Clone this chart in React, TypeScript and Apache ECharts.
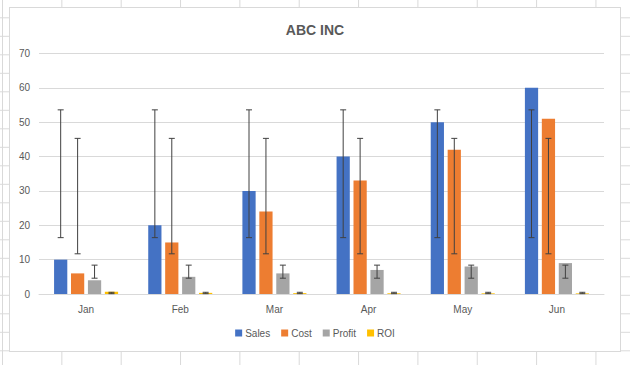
import React, { useEffect, useRef } from "react";
import * as echarts from "echarts";

const months = ["Jan", "Feb", "Mar", "Apr", "May", "Jun"];
const seriesNames = ["Sales", "Cost", "Profit", "ROI"];
const sales = [10, 20, 30, 40, 50, 60];
const cost = [6, 15, 24, 33, 42, 51];
const profit = [4, 5, 6, 7, 8, 9];
const roi = [0.67, 0.33, 0.25, 0.21, 0.19, 0.18];
// standard-deviation error bar ends (low, high)
const errLow = [16.4, 11.7, 4.6, 0.1];
const errHigh = [53.6, 45.3, 8.4, 0.5];
const yTicks = [0, 10, 20, 30, 40, 50, 60, 70];
const colors = ["#4472C4", "#ED7D31", "#A5A5A5", "#FFC000"];

const CAT_GAP = 0.32;
const BAR_GAP = 0.28;

export default function App() {
  const ref = useRef<HTMLDivElement>(null);
  useEffect(() => {
    if (!ref.current) return;
    const chart = echarts.init(ref.current, null, { renderer: "svg" });
    const values = [sales, cost, profit, roi];
    const nBars = values.length;
    const barSeries = values.map((v, i) => ({
      name: seriesNames[i],
      type: "bar",
      data: v,
      itemStyle: { color: colors[i] },
      barGap: `${BAR_GAP * 100}%`,
      barCategoryGap: `${CAT_GAP * 100}%`,
      z: 2,
    }));
    const errSeries = values.map((v, s) => ({
      type: "custom",
      name: seriesNames[s] + "-err",
      z: 5,
      silent: true,
      encode: { x: 0, y: [1, 2] },
      data: v.map((_, k) => [k, errLow[s], errHigh[s]]),
      renderItem: (params: any, api: any) => {
        const idx = api.value(0);
        const lo = api.coord([idx, api.value(1)]);
        const hi = api.coord([idx, api.value(2)]);
        const band = api.size([1, 0])[0];
        const inner = band * (1 - CAT_GAP);
        const bw = inner / (nBars + (nBars - 1) * BAR_GAP);
        const x = lo[0] - inner / 2 + bw / 2 + s * bw * (1 + BAR_GAP);
        const hw = 3;
        const style = { stroke: "#404040", lineWidth: 1 };
        return {
          type: "group",
          children: [
            { type: "line", shape: { x1: x, y1: lo[1], x2: x, y2: hi[1] }, style },
            { type: "line", shape: { x1: x - hw, y1: lo[1], x2: x + hw, y2: lo[1] }, style },
            { type: "line", shape: { x1: x - hw, y1: hi[1], x2: x + hw, y2: hi[1] }, style },
          ],
        };
      },
    }));
    chart.setOption({
      animation: false,
      textStyle: { fontFamily: "Liberation Sans" },
      title: {
        text: "ABC INC",
        left: "center",
        top: 10,
        textStyle: { fontSize: 14, fontWeight: "bold", color: "#595959", fontFamily: "Liberation Sans" },
      },
      legend: {
        data: seriesNames,
        bottom: 8,
        left: "center",
        icon: "rect",
        itemWidth: 7,
        itemHeight: 7,
        itemGap: 11,
        textStyle: { fontSize: 10, color: "#595959", padding: [0, 0, 0, -2] },
      },
      grid: { left: 29, right: 16, top: 45.5, bottom: 57, containLabel: false },
      xAxis: {
        type: "category",
        data: months,
        axisTick: { show: false },
        axisLine: { lineStyle: { color: "#d9d9d9" } },
        axisLabel: { color: "#595959", fontSize: 10, margin: 10 },
      },
      yAxis: {
        type: "value",
        min: yTicks[0],
        max: yTicks[yTicks.length - 1],
        interval: 10,
        axisLine: { show: false },
        axisTick: { show: false },
        axisLabel: { color: "#595959", fontSize: 10, margin: 9 },
        splitLine: { lineStyle: { color: "#d9d9d9" } },
      },
      series: [...barSeries, ...errSeries],
    });
    return () => chart.dispose();
  }, []);

  const bg = {
    position: "fixed" as const,
    left: 0,
    top: 0,
    width: 630,
    height: 365,
    backgroundColor: "#ffffff",
    backgroundImage:
      "linear-gradient(to right, #d9d9d9 1px, transparent 1px), linear-gradient(to bottom, #d9d9d9 1px, transparent 1px)",
    backgroundSize: "59.35px 100%, 100% 18.5px",
    backgroundPosition: "2px 0px, 0px -1.2px",
    overflow: "hidden",
  };
  return (
    <div style={bg}>
      <div
        style={{
          position: "absolute",
          left: 9,
          top: 7,
          width: 612,
          height: 345,
          boxSizing: "border-box",
          border: "1px solid #d9d9d9",
          backgroundColor: "#ffffff",
        }}
      >
        <div ref={ref} style={{ width: 610, height: 343 }} />
      </div>
    </div>
  );
}
